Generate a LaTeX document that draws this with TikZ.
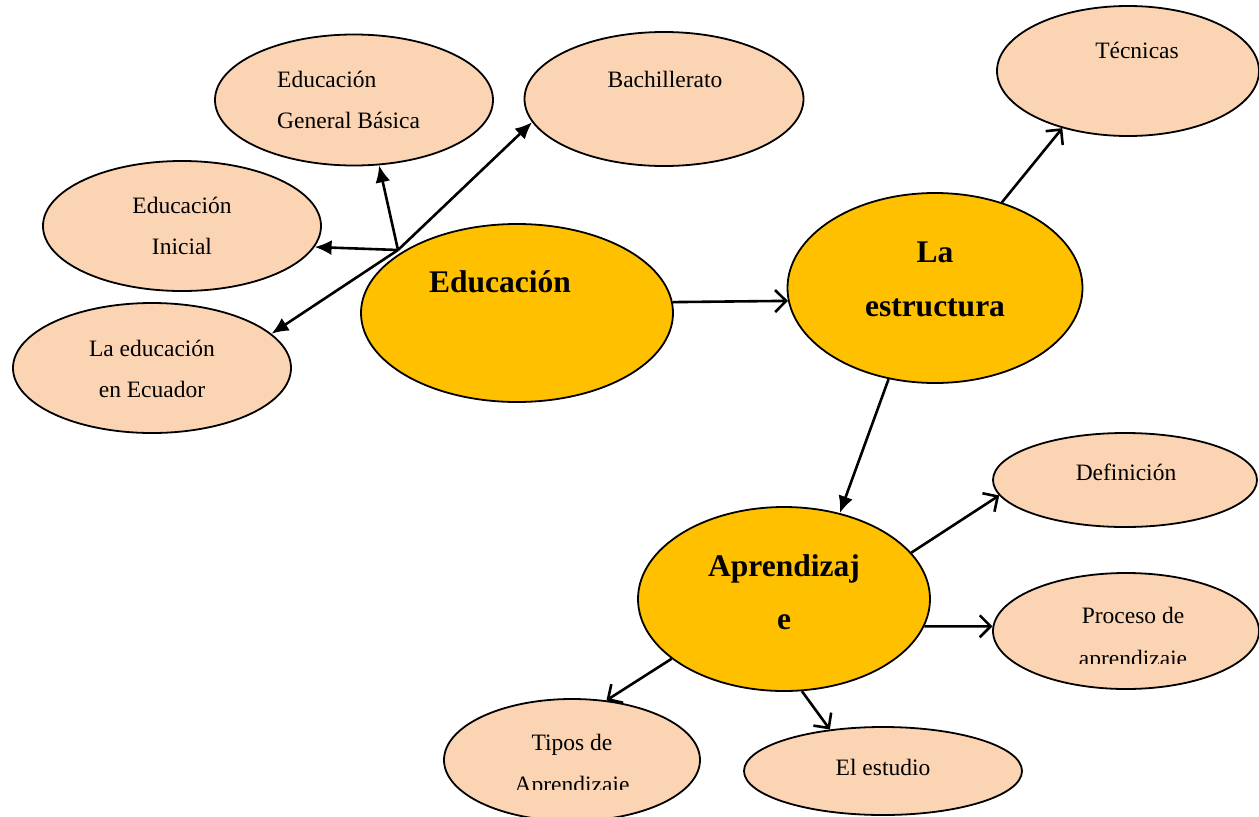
\documentclass[tikz,border=0pt]{standalone}
\usepackage{fontspec}
\setmainfont{Liberation Serif}
\usetikzlibrary{shapes.geometric,arrows.meta}
\definecolor{peach}{HTML}{FBD4B4}
\definecolor{gold}{HTML}{FFC000}
\tikzset{
  sub/.style={ellipse,draw=black,line width=1.8pt,fill=peach,inner sep=0pt},
  main/.style={ellipse,draw=black,line width=1.8pt,fill=gold,inner sep=0pt},
  lbl/.style={anchor=base,inner sep=0pt,font=\fontsize{23.5}{28}\selectfont},
  lbll/.style={anchor=base west,inner sep=0pt,font=\fontsize{23.5}{28}\selectfont},
  blbl/.style={anchor=base,inner sep=0pt,font=\fontsize{31.5}{36}\selectfont\bfseries},
  fa/.style={line width=2.6pt,-{Latex[length=17pt,width=15pt]}},
  oa/.style={line width=2.6pt,-{Straight Barb[length=11pt,width=22pt,line width=2.6pt]}},
}
\begin{document}
\begin{tikzpicture}[x=1pt,y=-1pt]
\useasboundingbox (0,0) rectangle (1259,817);
% ellipses
\node[sub,minimum width=278pt,minimum height=131pt] (basica) at (354,100) {};
\node[sub,minimum width=279pt,minimum height=134pt] (bach) at (664,99) {};
\node[sub,minimum width=278pt,minimum height=130pt] (inicial) at (182,226) {};
\node[sub,minimum width=278pt,minimum height=130pt] (ecuador) at (152,368) {};
\node[main,minimum width=312pt,minimum height=178pt] (edu) at (517,313) {};
\node[main,minimum width=295pt,minimum height=190pt] (estr) at (935,288) {};
\node[sub,minimum width=262pt,minimum height=130pt] (tec) at (1128,71) {};
\node[sub,minimum width=264pt,minimum height=94pt] (def) at (1125,480) {};
\node[sub,minimum width=266pt,minimum height=116pt] (proc) at (1126,631) {};
\node[main,minimum width=292pt,minimum height=184pt] (apr) at (784,599) {};
\node[sub,minimum width=256pt,minimum height=122pt] (tipos) at (572,760) {};
\node[sub,minimum width=278pt,minimum height=88pt] (est) at (883,771) {};
% labels
\node[lbll] (tb1) at (277,87) {Educación};
\node[lbll] (tb2) at (277,128) {General Básica};
\node[lbl] (tba) at (665,87) {Bachillerato};
\node[lbl] (ti1) at (182,213) {Educación};
\node[lbl] (ti2) at (182,254) {Inicial};
\node[lbl] (te1) at (152,356) {La educación};
\node[lbl] (te2) at (152,397) {en Ecuador};
\node[blbl] (tedu) at (500,292) {Educación};
\node[blbl] (tes1) at (935,262) {La};
\node[blbl] (tes2) at (935,316) {estructura};
\node[lbl] (ttec) at (1137,58) {Técnicas};
\node[lbl] (tdef) at (1126,480) {Definición};
\node[lbl] (tp1) at (1133,623) {Proceso de};
\begin{scope}
\clip (1000,640) rectangle (1259,663);
\node[lbl] (tp2) at (1133,666) {aprendizaje};
\end{scope}
\node[blbl] (ta1) at (784,576) {Aprendizaj};
\node[blbl] (ta2) at (784,629) {e};
\node[lbl] (tt1) at (572,750) {Tipos de};
\begin{scope}
\clip (440,765) rectangle (700,789);
\node[lbl] (tt2) at (572,792) {Aprendizaje};
\end{scope}
\node[lbl] (test) at (883,775) {El estudio};
% connectors
\coordinate (hub) at (398,250);
\draw[fa] (hub) -- (inicial.351.5);
\draw[fa] (hub) -- (basica.291.5);
\draw[fa] (hub) -- (bach.190.4);
\draw[fa] (hub) -- (ecuador.16);
\draw[oa] (edu.4) -- (estr.185.4);
\draw[oa] (estr.52.8) -- (tec.221.5);
\draw[fa] (estr.243.4) -- (apr.57.9);
\draw[oa] (apr.20.3) -- (def.187.6);
\draw[oa] (apr.349) -- (proc.178);
\draw[oa] (apr.208.8) -- (tipos.60.5);
\draw[oa] (apr.281.7) -- (est.142);
\end{tikzpicture}
\end{document}
